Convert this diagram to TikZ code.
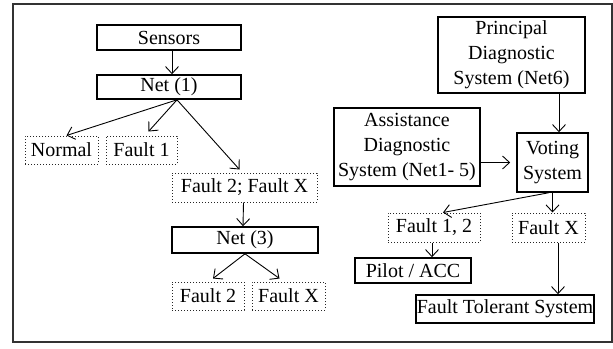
\documentclass[tikz,border=0pt]{standalone}
\usepackage{fontspec}
\setmainfont{Liberation Serif}
\usetikzlibrary{arrows.meta}

\begin{document}
\begin{tikzpicture}[
    % Styles
    x=1pt, y=-1pt,
    font=\fontsize{20}{25}\selectfont,
    >={Straight Barb[length=7pt,width=13pt]},
    line width=0.9pt,
    % Blocks
    solidbox/.style={
        rectangle,
        draw=black,
        line width=1.6pt,
        inner sep=0pt,
        align=center
    },
    dotbox/.style={
        rectangle,
        draw=black!85,
        dotted,
        line width=1pt,
        inner sep=0pt,
        align=center
    },
    link/.style={
        ->,
        line width=0.9pt
    }
]

\useasboundingbox (0,0) rectangle (613,348);

% --- FRAME ---
\draw[line width=1.6pt, black!80] (13,4) rectangle (612,342);

% --- LAYOUT ---

% 1. Sensor chain (left)
\node[solidbox, minimum width=144pt, minimum height=25pt] (sensors) at (169,37.5) {Sensors};
\node[solidbox, minimum width=144pt, minimum height=24pt] (net1) at (169,87) {Net (1)};

% 2. Net (1) outputs
\node[dotbox, minimum width=73pt, minimum height=28pt] (normal) at (61.5,150) {Normal};
\node[dotbox, minimum width=71pt, minimum height=28pt] (fault1) at (141.5,150) {Fault 1};
\node[dotbox, minimum width=145pt, minimum height=29pt] (fault2x) at (244.5,187.5) {Fault 2; Fault X};

% 3. Net (3) and its outputs
\node[solidbox, minimum width=146pt, minimum height=26pt] (net3) at (245,240) {Net (3)};
\node[dotbox, minimum width=72pt, minimum height=28pt] (fault2) at (208,296) {Fault 2};
\node[dotbox, minimum width=73pt, minimum height=28pt] (faultx) at (288.5,296) {Fault X};

% 4. Diagnostic systems (right)
\node[solidbox, minimum width=147pt, minimum height=76pt] (principal) at (511.5,55) {Principal\\Diagnostic\\System (Net6)};
\node[solidbox, minimum width=146pt, minimum height=78pt] (assist) at (407,147) {Assistance\\Diagnostic\\System (Net1- 5)};
\node[solidbox, minimum width=71pt, minimum height=59pt] (voting) at (552.5,162.5) {Voting\\System};

% 5. Voting outputs
\node[dotbox, minimum width=92pt, minimum height=29pt] (fault12) at (434,227.5) {Fault 1, 2};
\node[dotbox, minimum width=73pt, minimum height=29pt] (faultxr) at (548.5,227.5) {Fault X};
\node[solidbox, minimum width=116pt, minimum height=25pt] (pilot) at (413,270.5) {Pilot / ACC};
\node[solidbox, minimum width=178pt, minimum height=28pt] (tolerant) at (505,309) {Fault Tolerant System};

% --- ARROWS ---

% Left chain
\draw[link] ([xshift=3pt]sensors.south) -- ([xshift=3pt]net1.north);
\draw[link] ([xshift=8pt]net1.south) -- ([xshift=5pt]normal.north);
\draw[link] ([xshift=8pt]net1.south) -- ([xshift=7pt,yshift=4pt]fault1.north);
\draw[link] ([xshift=8pt]net1.south) -- ([xshift=-5pt,yshift=3pt]fault2x.north);
\draw[link] ([xshift=-1pt]fault2x.south) -- ([xshift=-2pt]net3.north);
\draw[link] (net3.south) -- ([xshift=5pt,yshift=3pt]fault2.north);
\draw[link] (net3.south) -- ([xshift=-9pt,yshift=3pt]faultx.north);

% Right side
\draw[link] ([xshift=6.5pt]voting.north |- principal.south) -- ([xshift=6.5pt]voting.north);
\draw[link] (assist.east |- voting.west) -- ([xshift=-6pt]voting.west);
\draw[link] ([xshift=-4pt]voting.south) -- ([xshift=9pt]fault12.north);
\draw[link] (voting.south) -- (voting.south |- faultxr.north);
\draw[link] ([xshift=-2pt]fault12.south) -- ([xshift=-2pt]fault12.south |- pilot.north);
\draw[link] ([xshift=9.5pt]faultxr.south) -- ([xshift=9.5pt]faultxr.south |- tolerant.north);

\end{tikzpicture}
\end{document}
